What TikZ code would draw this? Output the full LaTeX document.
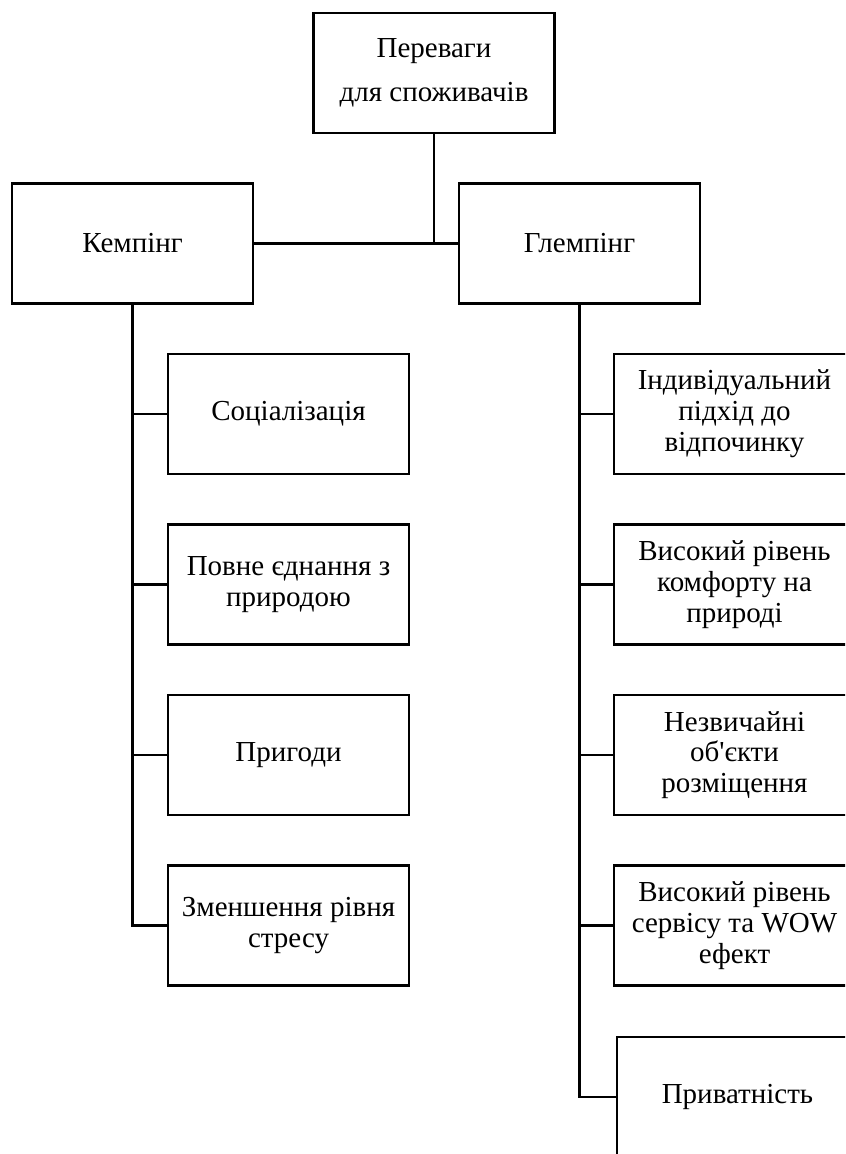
\documentclass[tikz,border=0pt]{standalone}
\usepackage{fontspec}
\setmainfont{Liberation Serif}
\begin{document}
\begin{tikzpicture}[x=0.5pt,y=-0.5pt,
    box/.style={draw, line width=1.2pt, minimum width=120.5pt, minimum height=60pt, align=center, inner sep=0pt, font=\fontsize{14.5}{15.4}\selectfont},
    link/.style={line width=1.2pt}]
    \useasboundingbox (0,0) rectangle (845,1154);
    \clip (0,0) rectangle (845,1154);
    \node[box, font=\fontsize{14.5}{22}\selectfont] (ben) at (434,73) {Переваги\\для споживачів};
    \node[box] (camp) at (132.5,243.5) {Кемпінг};
    \node[box] (glamp) at (579.5,243.5) {Глемпінг};
    \node[box] (c1) at (288.5,414) {Соціалізація};
    \node[box] (c2) at (288.5,584.5) {Повне єднання з\\природою};
    \node[box] (c3) at (288.5,755) {Пригоди};
    \node[box] (c4) at (288.5,925.5) {Зменшення рівня\\стресу};
    \node[box] (g1) at (734.5,414) {Індивідуальний\\підхід до\\відпочинку};
    \node[box] (g2) at (734.5,584.5) {Високий рівень\\комфорту на\\природі};
    \node[box] (g3) at (734.5,755) {Незвичайні\\об\textquotesingle єкти\\розміщення};
    \node[box] (g4) at (734.5,925.5) {Високий рівень\\сервісу та WOW\\ефект};
    \node[box] (g5) at (737.5,1097) {Приватність};
    \draw[link] (ben) -- (ben |- camp);
    \draw[link] (camp) -- (glamp);
    \foreach \c in {c1,c2,c3,c4}
        \draw[link] (camp.south) |- (\c.west);
    \foreach \g in {g1,g2,g3,g4,g5}
        \draw[link] (glamp.south) |- (\g.west);
\end{tikzpicture}
\end{document}
